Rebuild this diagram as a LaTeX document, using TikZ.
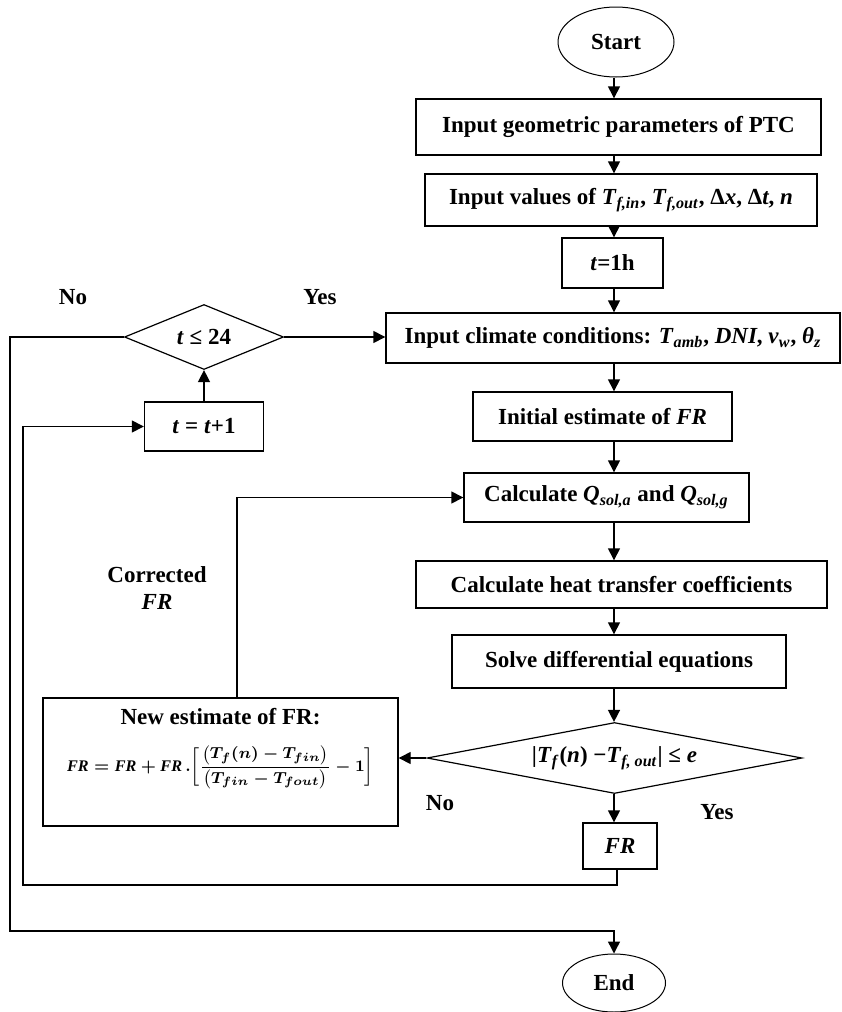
\documentclass[tikz,border=0pt]{standalone}
\usepackage{amsmath}
\usepackage{fontspec}
\setmainfont{Liberation Serif}
\usetikzlibrary{shapes.geometric,arrows.meta}
\newcommand{\vi}[1]{\textit{#1}}
\newcommand{\vs}[2]{\textit{#1}\textsubscript{\textit{#2}}}
\newcommand{\dtwotext}{|\vs{T}{f}(\vi{n}) −\vs{T}{f, out}| ≤ \vi{e}}
\newsavebox{\frbox}
\begin{document}
\sbox{\frbox}{\fontsize{8.1}{10}\selectfont\boldmath$\mathit{FR}=\mathit{FR}+\mathit{FR}\,.\biggl[\dfrac{\bigl(T_f(n)-T_{fin}\bigr)}{\bigl(T_{fin}-T_{fout}\bigr)}-1\biggr]$}%
\begin{tikzpicture}[x=0.5pt,y=-0.5pt,
  font=\fontsize{11.5}{13.5}\selectfont\bfseries,
  box/.style={draw, rectangle, line width=0.7pt, inner sep=0pt, align=center},
  oval/.style={draw, ellipse, line width=0.5pt, inner sep=0pt},
  dia/.style={draw, diamond, line width=0.6pt, inner sep=0pt},
  lbl/.style={inner sep=0pt, align=center},
  arr/.style={line width=0.7pt, -{Triangle[length=6pt,width=6pt]}},
  ln/.style={line width=0.7pt}]
\useasboundingbox (0,0) rectangle (841,1012);
\coordinate (colx) at (614,0);
% main column
\node[oval, minimum width=58pt, minimum height=35pt] (start) at (616,42) {Start};
\node[box, minimum width=202.5pt, minimum height=28pt] (b1) at (618.5,127) {Input geometric parameters of PTC};
\node[box, minimum width=196pt, minimum height=26pt] (b2) at (621,200) {Input values of \vs{T}{f,in}, \vs{T}{f,out}, Δ\vi{x}, Δ\vi{t}, \vi{n}};
\node[box, minimum width=50.5pt, minimum height=25pt] (b3) at (612.5,263) {\vi{t}=1h};
\node[box, minimum width=227pt, minimum height=25pt] (b4) at (613,338) {Input climate conditions: \vs{T}{amb}, \vi{DNI}, \vs{v}{w}, \vs{θ}{z}};
\node[box, minimum width=129.5pt, minimum height=24.5pt] (b5) at (602.5,416.5) {Initial estimate of \vi{FR}};
\node[box, minimum width=142.5pt, minimum height=24.5pt] (b6) at (606.5,497.5) {Calculate \vs{Q}{sol,a} and \vs{Q}{sol,g}};
\node[box, minimum width=205.5pt, minimum height=23.5pt] (b7) at (621.5,584.5) {Calculate heat transfer coefficients};
\node[box, minimum width=167pt, minimum height=26.5pt] (b8) at (619,661.5) {Solve differential equations};
\node[dia, minimum width=187.5pt, minimum height=35.5pt, aspect=5.3] (d2) at (614.5,758) {\dtwotext};
\node[box, minimum width=37pt, minimum height=23pt] (b10) at (620,846) {\vi{FR}};
\node[oval, minimum width=51.5pt, minimum height=29pt] (end) at (614,983) {End};
% left side
\node[dia, minimum width=79.5pt, minimum height=32.5pt, aspect=2.45] (d1) at (204,337) {\vi{t} ≤ 24};
\node[box, minimum width=59.5pt, minimum height=24.5pt] (b11) at (204,426.5) {\vi{t} = \vi{t}+1};
\node[box, minimum width=177.5pt, minimum height=64pt] (b9) at (220.5,762) {};
\node[lbl] (b9t) at (220.5,717) {New estimate of FR:};
\node[inner sep=0pt] (b9f) at (220.5,767) {\usebox{\frbox}};
% labels
\node[lbl] (lno1) at (73,297) {No};
\node[lbl] (lyes1) at (320,297) {Yes};
\node[lbl] (lcorr) at (157,588) {Corrected\\\vi{FR}};
\node[lbl] (lno2) at (440,803) {No};
\node[lbl] (lyes2) at (717,812) {Yes};
% coordinates for loops
\coordinate (lp) at (23,885);
\coordinate (np) at (10,931);
\coordinate (cx) at (237,0);
\coordinate (fx) at (617,0);
% main arrows
\draw[arr] (start.south -| colx) -- (b1.north -| colx);
\draw[arr] (b1.south -| colx) -- (b2.north -| colx);
\draw[arr] (b2.south -| colx) -- (b3.north -| colx);
\draw[arr] (b3.south -| colx) -- (b4.north -| colx);
\draw[arr] (b4.south -| colx) -- (b5.north -| colx);
\draw[arr] (b5.south -| colx) -- (b6.north -| colx);
\draw[arr] (b6.south -| colx) -- (b7.north -| colx);
\draw[arr] (b7.south -| colx) -- (b8.north -| colx);
\draw[arr] (b8.south -| colx) -- (d2.north -| colx);
\draw[arr] (d2.south -| colx) -- (b10.north -| colx);
% decision 2 No
\draw[arr] (d2.west) -- (d2.west -| b9.east);
% correction
\draw[arr] (b9.north -| cx) |- (b6.west);
% FR loop
\draw[arr] (b10.south -| fx) |- (lp) |- (b11.west);
% t loop
\draw[arr] (b11.north) -- (d1.south);
\draw[arr] (d1.east) -- (d1.east -| b4.west);
\draw[arr] (d1.west) -| (np) -| (end.north);
\end{tikzpicture}
\end{document}
